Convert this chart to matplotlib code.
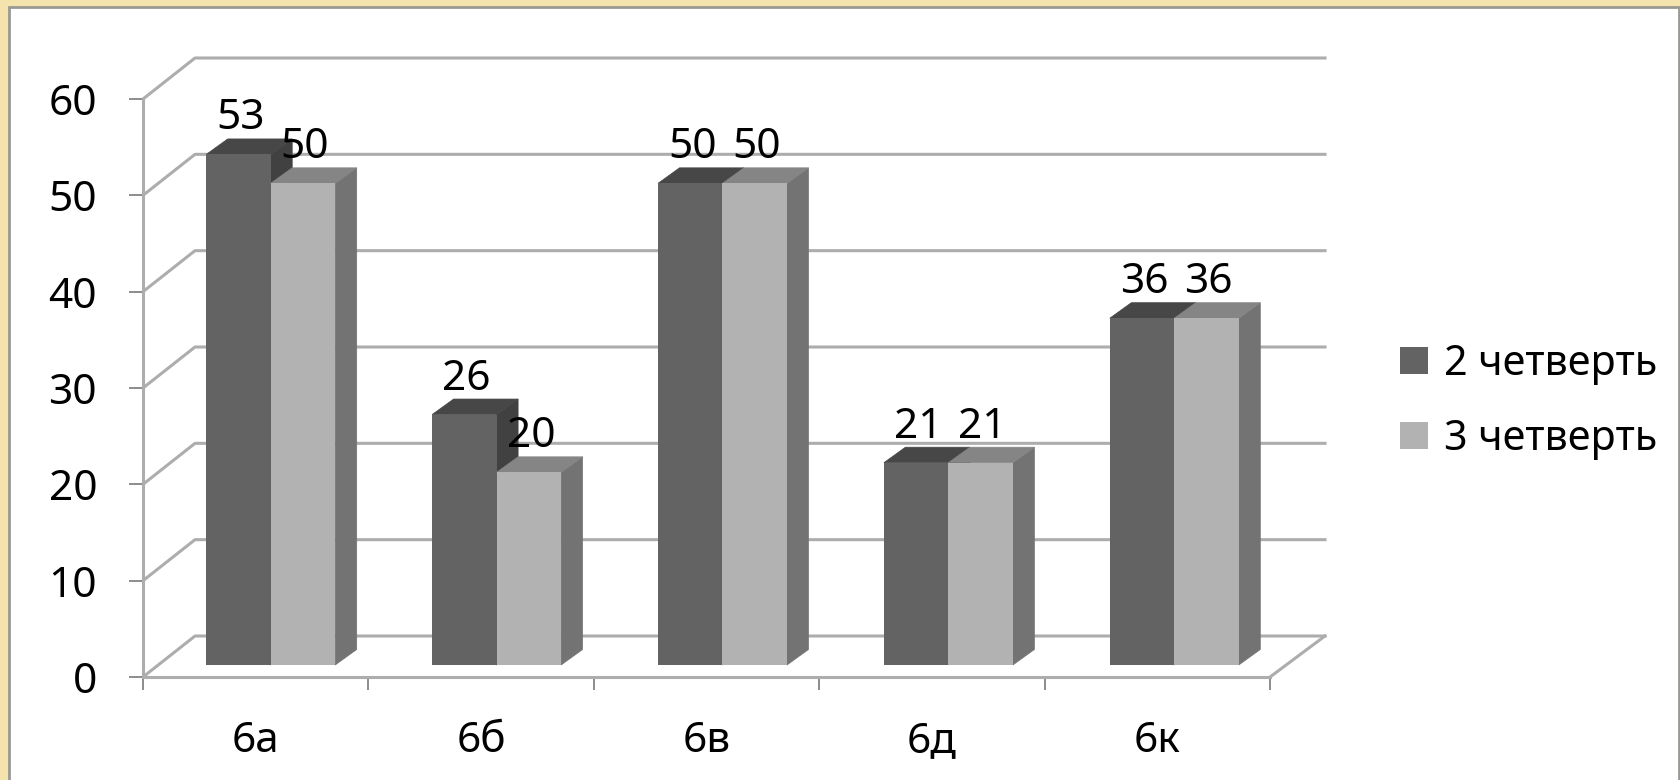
#! /usr/bin/env python3

import matplotlib.pyplot as plt
from matplotlib.patches import Patch, Rectangle

plt.rcParams['font.family'] = ['Noto Sans', 'DejaVu Sans']

classes = ['6а', '6б', '6в', '6д', '6к']
quarter2 = [53, 26, 50, 21, 36]
quarter3 = [50, 20, 50, 21, 36]
series_names = ['2 четверть', '3 четверть']
yticks = [0, 10, 20, 30, 40, 50, 60]

# front, top, side shades of each series
dark = ['#636363', '#474747', '#414141']
light = ['#b2b2b2', '#858585', '#737373']
grid_color = '#adadad'
tick_color = '#8c8c8c'

W, H = 1681, 780
fig = plt.figure(figsize=(W / 100, H / 100), dpi=100, facecolor='#f5e3ae')

# white slide panel over the parchment
fig.add_artist(Rectangle((9 / W, -0.01), 1670 / W, (H - 7) / H + 0.01,
                         transform=fig.transFigure, facecolor='white',
                         edgecolor='#9a9a94', linewidth=2, zorder=-1))

ax = fig.add_axes([143 / W, (H - 677) / H, 1127 / W, 578 / H])
ax.set_xlim(0, len(classes))
ax.set_ylim(0, 60)
ax.patch.set_visible(False)

# 3d offsets in data units, taken from pixel sizes
px = len(classes) / 1127
py = 60 / 578
wall_dx_left = 52 * px
wall_dx_right = 55 * px
wall_dy = 41 * py
bar_dx = 15 * px
bar_dy = 12 * py
depth_dx = 21.5 * px
depth_dy = 15.5 * py
bar_w = 64.5 * px

# walls
for v in yticks:
    ax.plot([0, wall_dx_left, 5 + wall_dx_right],
            [v, v + wall_dy, v + wall_dy],
            color=grid_color, lw=2.2, clip_on=False, zorder=1)
ax.plot([5, 5 + wall_dx_right], [0, wall_dy], color=grid_color, lw=2.2,
        clip_on=False, zorder=1)

z = 3
for i in range(len(classes)):
    for k, (vals, cols) in enumerate([(quarter2, dark), (quarter3, light)]):
        left = i + 0.5 + bar_dx - bar_w + k * bar_w + i * 0.5 * px
        right = left + bar_w
        base = bar_dy
        top = base + vals[i]
        # side face
        ax.fill([right, right + depth_dx, right + depth_dx, right],
                [base, base + depth_dy, top + depth_dy, top],
                color=cols[2], lw=0.5, clip_on=False, zorder=z)
        # top face
        ax.fill([left, right, right + depth_dx, left + depth_dx],
                [top, top, top + depth_dy, top + depth_dy],
                color=cols[1], lw=0.5, clip_on=False, zorder=z)
        ax.bar(left, vals[i], bar_w, bottom=base, align='edge', color=cols[0],
               lw=0, clip_on=False, zorder=z + 1)
        z += 2

# data labels over all the bars
for i in range(len(classes)):
    for k, vals in enumerate([quarter2, quarter3]):
        xc = i + 0.5 + bar_dx - bar_w + (k + 0.5) * bar_w + 2 * px + i * 0.5 * px
        ax.text(xc, vals[i] + bar_dy + depth_dy + 9.5 * py, str(vals[i]),
                ha='center', va='baseline', fontsize=30.5, color='black',
                zorder=100, clip_on=False)

for s in ['top', 'right']:
    ax.spines[s].set_visible(False)
for s in ['left', 'bottom']:
    ax.spines[s].set_color(grid_color)
    ax.spines[s].set_linewidth(2.2)

ax.set_yticks(yticks)
ax.tick_params(axis='y', length=10, width=1.4, color=tick_color, pad=23,
               labelsize=30.5)
ax.set_xticks(range(len(classes) + 1))
ax.set_xticklabels([])
ax.set_xticks([i + 0.5 for i in range(len(classes))], classes, minor=True)
ax.tick_params(axis='x', which='major', length=9, width=1.4, color=tick_color)
ax.tick_params(axis='x', which='minor', length=0, pad=31, labelsize=30.5)

handles = [Patch(facecolor=dark[0], lw=0), Patch(facecolor=light[0], lw=0)]
fig.legend(handles, series_names, loc='upper left',
           bbox_to_anchor=(1400 / W, (H - 343) / H), frameon=False,
           fontsize=29.7, borderpad=0, borderaxespad=0, handlelength=0.68,
           handleheight=0.63, handletextpad=0.38, labelspacing=0.8)

fig.savefig('out.png', dpi=100)
